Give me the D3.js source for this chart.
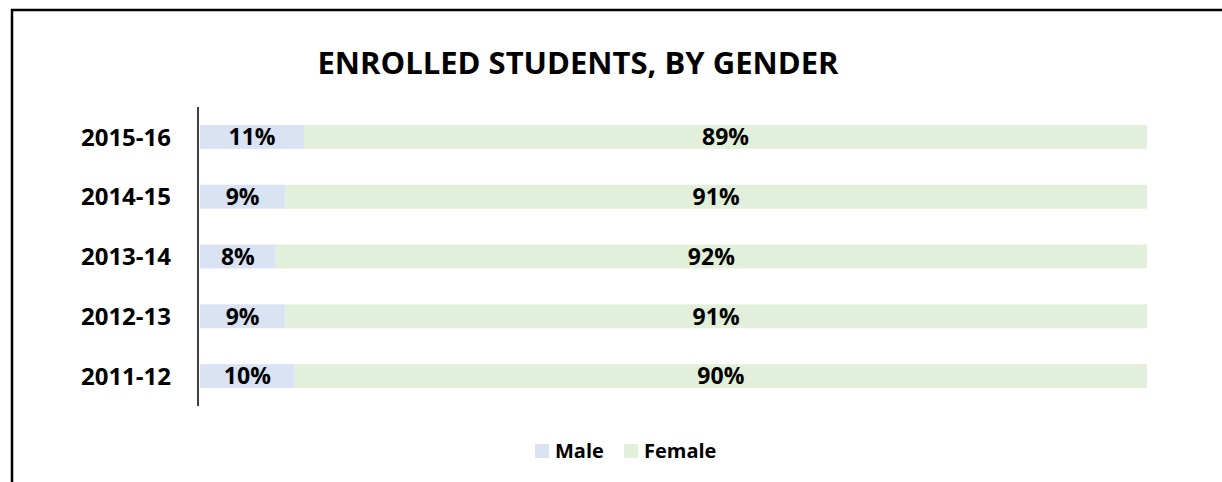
<!DOCTYPE html>
<html>
<head>
<meta charset="utf-8">
<script src="https://cdn.jsdelivr.net/npm/d3@7"></script>
<style>
  body { margin: 0; background: #fff; overflow: hidden; }
  svg { display: block; }
  svg text { font-family: "Open Sans", sans-serif; font-weight: bold; fill: #000; }
</style>
</head>
<body>
<script>
var years = ["2015-16", "2014-15", "2013-14", "2012-13", "2011-12"];
var male = [11, 9, 8, 9, 10];
var female = [89, 91, 92, 91, 90];
var seriesNames = ["Male", "Female"];
var colors = ["#dae3f3", "#e2efda"];

var width = 1222, height = 482;

var svg = d3.select("body").append("svg")
  .attr("width", width)
  .attr("height", height);

// chart frame: only its top and left edges are inside the window
svg.append("path")
  .attr("d", "M12," + height + "V10H" + width)
  .attr("fill", "none")
  .attr("stroke", "#000")
  .attr("stroke-width", 2.5);

svg.append("text")
  .attr("x", 578).attr("y", 74)
  .attr("text-anchor", "middle")
  .attr("font-size", 31)
  .text("ENROLLED STUDENTS, BY GENDER");

var rows = years.map(function (y, i) {
  return { year: y, Male: male[i], Female: female[i] };
});

var x = d3.scaleLinear().domain([0, 100]).range([200, 1147]);
var y = d3.scaleBand().domain(years).range([107, 406]).paddingInner(0.6).paddingOuter(0.3);
var color = d3.scaleOrdinal().domain(seriesNames).range(colors);

var stack = d3.stack().keys(seriesNames)(rows);

var layer = svg.selectAll(".layer")
  .data(stack)
  .enter().append("g")
  .attr("class", "layer")
  .attr("fill", function (d) { return color(d.key); });

layer.selectAll("rect")
  .data(function (d) { return d; })
  .enter().append("rect")
  .attr("x", function (d) { return x(d[0]); })
  .attr("y", function (d) { return y(d.data.year); })
  .attr("width", function (d) { return x(d[1]) - x(d[0]); })
  .attr("height", y.bandwidth());

layer.selectAll("text")
  .data(function (d) { return d; })
  .enter().append("text")
  .attr("x", function (d) { return (x(d[0]) + x(d[1])) / 2; })
  .attr("y", function (d) { return y(d.data.year) + y.bandwidth() / 2; })
  .attr("dy", "0.36em")
  .attr("text-anchor", "middle")
  .attr("font-size", 23)
  .text(function (d) { return (d[1] - d[0]) + "%"; });

// category axis
var yAxis = svg.append("g")
  .attr("transform", "translate(198,0)")
  .call(d3.axisLeft(y).tickSize(0).tickPadding(27));
yAxis.select(".domain").attr("d", "M0,107V406").attr("stroke", "#000").attr("stroke-width", 1.5);
yAxis.selectAll(".tick text")
  .attr("font-size", 24)
  .attr("font-family", "Open Sans, sans-serif")
  .attr("dy", "0.36em");

// legend
var legendX = [535, 624];
var legend = svg.selectAll(".legend")
  .data(seriesNames)
  .enter().append("g")
  .attr("class", "legend")
  .attr("transform", function (d, i) { return "translate(" + legendX[i] + ",444)"; });
legend.append("rect")
  .attr("width", 14).attr("height", 14)
  .attr("fill", function (d) { return color(d); });
legend.append("text")
  .attr("x", 20).attr("y", 14)
  .attr("font-size", 20)
  .text(function (d) { return d; });
</script>
</body>
</html>
